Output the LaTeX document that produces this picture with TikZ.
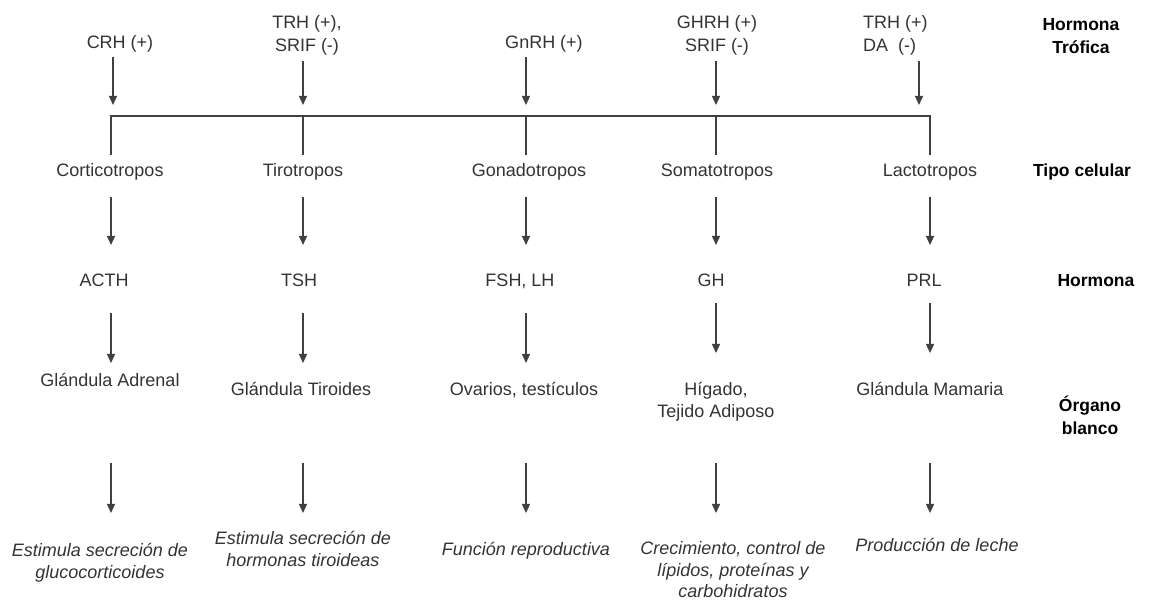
\documentclass[tikz,border=0pt]{standalone}
\usepackage{fontspec}
\setmainfont{Liberation Sans}
\usepackage{xcolor}
\usetikzlibrary{arrows.meta,calc,positioning}

\definecolor{grisT}{HTML}{333333}
\definecolor{grisL}{HTML}{404040}

\tikzset{
    texto/.style={font=\fontsize{18}{23}\selectfont, text=grisT, inner sep=0pt, align=center},
    efecto/.style={texto, font=\fontsize{18}{21.5}\selectfont\itshape},
    titulo/.style={font=\fontsize{17.5}{23}\selectfont\bfseries, text=black, inner sep=0pt, align=center},
    flecha/.style={draw=grisL, line width=1.4pt, -{Triangle[length=9pt,width=8pt]}},
    barra/.style={draw=grisL, line width=1.8pt},
}

\begin{document}
\begin{tikzpicture}[x=1pt,y=-1pt]
    \useasboundingbox (0,0) rectangle (1152,601);

    % columnas sobre la barra
    \coordinate (c1) at (111,116);
    \coordinate (c2) at (303,116);
    \coordinate (c3) at (526,116);
    \coordinate (c4) at (716,116);
    \coordinate (c5) at (930,116);
    \coordinate (t1) at (113,116);
    \coordinate (t5) at (919,116);

    % filas de flechas
    \coordinate (r0) at (0,155);
    \coordinate (ra1) at (0,197);
    \coordinate (ra2) at (0,245);
    \coordinate (rb1) at (0,313);
    \coordinate (rb2) at (0,363);
    \coordinate (rb3) at (0,303);
    \coordinate (rb4) at (0,353);
    \coordinate (rc1) at (0,463);
    \coordinate (rc2) at (0,513);

    % hormona trofica
    \node[texto, anchor=base] (crh) at (120,48.5) {CRH (+)};
    \node[texto, anchor=north] (trhsrif) at (307,15.5) {TRH (+),\\SRIF (-)};
    \node[texto, anchor=base] (gnrh) at (544,48.5) {GnRH (+)};
    \node[texto, anchor=north] (ghrh) at (717,15.5) {GHRH (+)\\SRIF (-)};
    \node[texto, anchor=north west, align=left] (trhda) at (863,15.5) {TRH (+)\\DA~~(-)};
    \node[titulo, anchor=north] (lblTrof) at (1081,18.5) {Hormona\\Trófica};

    % tipo celular
    \node[texto, anchor=base] (cort) at (110,176.5) {Corticotropos};
    \node[texto, anchor=base] (tiro) at (303,176.5) {Tirotropos};
    \node[texto, anchor=base] (gona) at (529,176.5) {Gonadotropos};
    \node[texto, anchor=base] (soma) at (717,176.5) {Somatotropos};
    \node[texto, anchor=base] (lact) at (930,176.5) {Lactotropos};
    \node[titulo, anchor=base] (lblTipo) at (1082,176.5) {Tipo celular};

    % hormona
    \node[texto, anchor=base] (acth) at (104,286.5) {ACTH};
    \node[texto, anchor=base] (tsh) at (299,286.5) {TSH};
    \node[texto, anchor=base] (fshlh) at (520,286.5) {FSH, LH};
    \node[texto, anchor=base] (gh) at (711,286.5) {GH};
    \node[texto, anchor=base] (prl) at (924,286.5) {PRL};
    \node[titulo, anchor=base] (lblHorm) at (1096,286.5) {Hormona};

    % organo blanco
    \node[texto, anchor=base] (adrenal) at (110,386.5) {Glándula Adrenal};
    \node[texto, anchor=base] (tiroides) at (301,395.5) {Glándula Tiroides};
    \node[texto, anchor=base] (ovarios) at (524,395.5) {Ovarios, testículos};
    \node[texto, anchor=north, font=\fontsize{18}{22}\selectfont] (higado) at (716,382.5) {Hígado,\\Tejido Adiposo};
    \node[texto, anchor=base] (mamaria) at (930,395.5) {Glándula Mamaria};
    \node[titulo, anchor=north] (lblOrg) at (1090,395.5) {Órgano\\blanco};

    % efectos
    \node[efecto, anchor=north] (efCort) at (100,543.5) {Estimula secreción de\\glucocorticoides};
    \node[efecto, anchor=north] (efTiro) at (303,531.5) {Estimula secreción de\\hormonas tiroideas};
    \node[efecto, anchor=base] (efGona) at (526,555.5) {Función reproductiva};
    \node[efecto, anchor=north] (efSoma) at (733,541.5) {Crecimiento, control de\\lípidos, proteínas y\\carbohidratos};
    \node[efecto, anchor=base] (efLact) at (937,551.5) {Producción de leche};

    % flechas de entrada y barra
    \draw[flecha, shorten <=5pt, shorten >=11pt] (t1 |- crh.south) -- (t1);
    \draw[flecha, shorten <=5pt, shorten >=11pt] (c2 |- trhsrif.south) -- (c2);
    \draw[flecha, shorten <=5pt, shorten >=11pt] (c3 |- gnrh.south) -- (c3);
    \draw[flecha, shorten <=5pt, shorten >=11pt] (c4 |- ghrh.south) -- (c4);
    \draw[flecha, shorten <=5pt, shorten >=11pt] (t5 |- trhda.south) -- (t5);

    \draw[barra] (c1 |- r0) -- (c1) -- (c5) -- (c5 |- r0);
    \foreach \c in {c2,c3,c4}
        \draw[barra] (\c) -- (\c |- r0);

    % flechas entre filas
    \foreach \c in {c1,c2,c3,c4,c5} {
        \draw[flecha] (\c |- ra1) -- (\c |- ra2);
        \draw[flecha] (\c |- rc1) -- (\c |- rc2);
    }
    \foreach \c in {c1,c2,c3}
        \draw[flecha] (\c |- rb1) -- (\c |- rb2);
    \foreach \c in {c4,c5}
        \draw[flecha] (\c |- rb3) -- (\c |- rb4);
\end{tikzpicture}
\end{document}
